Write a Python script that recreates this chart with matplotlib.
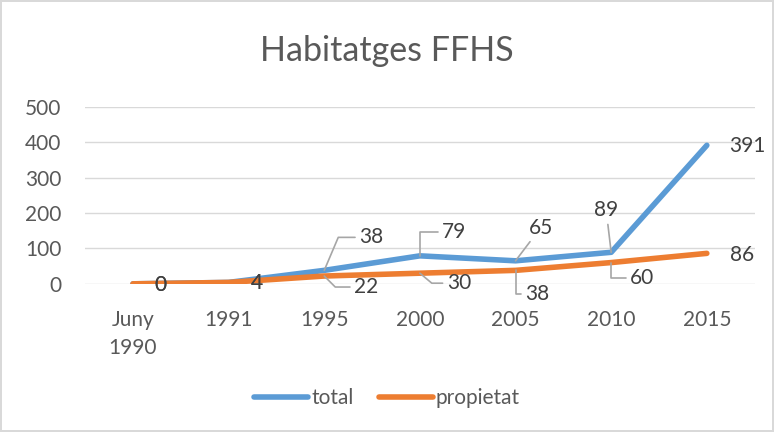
import matplotlib.pyplot as plt

categories = ["Juny\n1990", "1991", "1995", "2000", "2005", "2010", "2015"]
total = [0, 4, 38, 79, 65, 89, 391]
propietat = [0, 4, 22, 30, 38, 60, 86]

# label offsets in pixels (dx, dy) and leader angle (None = no leader, "s" = straight)
total_offsets = [(27, -1, None), (28, -1, None), (47, 33, 67), (34, 24, 90),
                 (25, 33, "s"), (-5, 42, "s"), (41, -1, None)]
prop_offsets = [(27, -1, None), (28, -1, None), (42, -11, -45), (39, -10, -40),
                (22, -24, 90), (31, -15, 90), (35, -2, None)]

plt.rcParams["font.family"] = ["Lato", "DejaVu Sans"]

fig = plt.figure(figsize=(7.74, 4.32), dpi=100)
fig.patch.set_edgecolor("#d9d9d9")
fig.patch.set_linewidth(1.5)
ax = fig.add_axes([0.110, 0.343, 0.865, 0.41])

x = list(range(len(categories)))
blue = "#5b9bd5"
orange = "#ed7d31"
ax.plot(x, total, color=blue, lw=4, solid_capstyle="round", label="total", zorder=3)
ax.plot(x, propietat, color=orange, lw=4, solid_capstyle="round", label="propietat", zorder=3)

ax.set_xlim(-0.5, len(categories) - 0.5)
ax.set_ylim(0, 500)
ax.set_yticks(range(0, 501, 100))
ax.set_xticks(x)
ax.set_xticklabels(categories, linespacing=1.5)
ax.grid(axis="y", color="#d9d9d9", lw=1)
ax.set_axisbelow(True)
for s in ax.spines.values():
    s.set_visible(False)
ax.tick_params(axis="both", length=0, labelsize=15, labelcolor="#595959")
ax.tick_params(axis="y", pad=17)
ax.tick_params(axis="x", pad=19)

for series, offs in [(total, total_offsets), (propietat, prop_offsets)]:
    for xi, v, (dx, dy, lead) in zip(x, series, offs):
        kw = {}
        if lead is not None:
            conn = "arc3" if lead == "s" else "angle,angleA=0,angleB=%d,rad=0" % lead
            kw["arrowprops"] = dict(arrowstyle="-", color="#a6a6a6", lw=1.2,
                                    shrinkA=1, shrinkB=0, connectionstyle=conn)
        ax.annotate(str(v), (xi, v), xytext=(dx, dy), textcoords="offset pixels",
                    ha="center", va="center", fontsize=15, color="#404040",
                    zorder=4, **kw)

fig.suptitle("Habitatges FFHS", y=0.918, fontsize=24.5, color="#595959")
fig.legend(loc="center", bbox_to_anchor=(0.5, 0.078), ncol=2, frameon=False,
           fontsize=15, handlelength=2.6, columnspacing=1.2, handletextpad=0.15,
           labelcolor="#595959")

fig.savefig("out.png", dpi=100)
